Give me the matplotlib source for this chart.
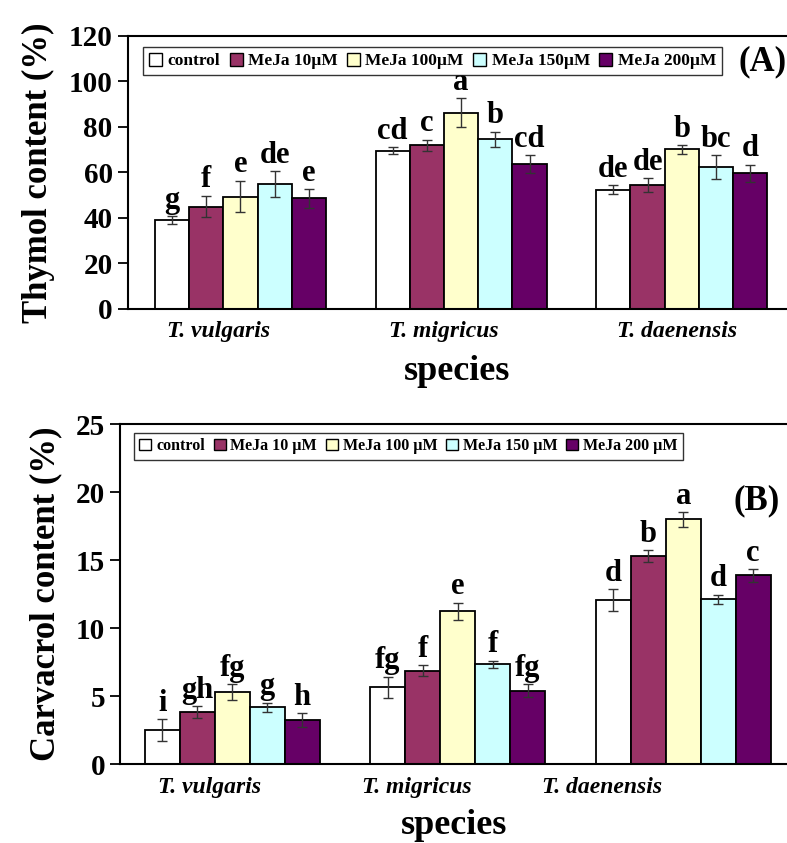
import matplotlib
matplotlib.use("Agg")
import matplotlib.pyplot as plt
import numpy as np

plt.rcParams['font.family'] = ['Liberation Serif', 'DejaVu Serif']
plt.rcParams['font.weight'] = 'bold'

species = ["T. vulgaris", "T. migricus", "T. daenensis"]
treat_A = ["control", "MeJa 10µM", "MeJa 100µM", "MeJa 150µM", "MeJa 200µM"]
treat_B = ["control", "MeJa 10 µM", "MeJa 100 µM", "MeJa 150 µM", "MeJa 200 µM"]
colors = ["#FFFFFF", "#993366", "#FFFFCC", "#CCFFFF", "#660066"]

# Thymol (%) : rows = treatments, cols = species
thymol = [[39.0, 69.5, 52.4],
          [45.0, 71.9, 54.4],
          [49.4, 86.3, 70.1],
          [55.0, 74.5, 62.3],
          [48.6, 63.7, 59.6]]
thymol_err = [[1.7, 1.6, 1.9],
              [4.7, 2.5, 3.0],
              [7.0, 6.3, 1.9],
              [5.6, 3.4, 5.3],
              [4.1, 3.8, 3.8]]
thymol_letters = [["g", "cd", "de"],
                  ["f", "c", "de"],
                  ["e", "a", "b"],
                  ["de", "b", "bc"],
                  ["e", "cd", "d"]]

carvacrol = [[2.5, 5.64, 12.06],
             [3.82, 6.86, 15.29],
             [5.29, 11.23, 17.99],
             [4.17, 7.33, 12.1],
             [3.24, 5.39, 13.87]]
carvacrol_err = [[0.78, 0.78, 0.78],
                 [0.44, 0.40, 0.44],
                 [0.59, 0.63, 0.54],
                 [0.33, 0.27, 0.35],
                 [0.49, 0.49, 0.47]]
carvacrol_letters = [["i", "fg", "d"],
                     ["gh", "f", "b"],
                     ["fg", "e", "a"],
                     ["g", "f", "d"],
                     ["h", "fg", "c"]]

fig = plt.figure(figsize=(7.87, 8.43), dpi=100)
axA = fig.add_axes([0.1626, 0.6335, 0.8374, 0.3240])
axB = fig.add_axes([0.1531, 0.0937, 0.8469, 0.4033])

x = np.arange(len(species))
w = 0.155


def draw(ax, vals, errs, letters, treats, ymax, yticks, xlim, ylabel, tag, tagpos,
         legpos, legfs, tickfs, xtick_shift, xlabelpad):
    for i in range(len(treats)):
        pos = x + (i - 2) * w
        ax.bar(pos, vals[i], w, color=colors[i], edgecolor='black', linewidth=1.3,
               label=treats[i], zorder=2)
        ax.errorbar(pos, vals[i], yerr=errs[i], fmt='none', ecolor='#333333',
                    elinewidth=1.0, capsize=3.5, capthick=1.0, zorder=3)
        for j in range(len(species)):
            ax.annotate(letters[i][j], (pos[j], vals[i][j] + errs[i][j]),
                        xytext=(0, 1), textcoords='offset points', ha='center',
                        va='bottom', fontsize=22, fontweight='bold')
    ax.set_xlim(*xlim)
    ax.set_ylim(0, ymax)
    ax.set_yticks(yticks)
    ax.set_yticklabels([str(t) for t in yticks], fontsize=tickfs, fontweight='bold')
    ax.set_xticks(x + np.array(xtick_shift))
    ax.set_xticklabels(species, fontsize=17, fontstyle='italic', fontweight='bold')
    ax.tick_params(axis='x', length=0, pad=9)
    ax.tick_params(axis='y', length=7, width=1.3, direction='out', pad=4)
    for s in ['left', 'bottom', 'top']:
        ax.spines[s].set_linewidth(1.5)
    ax.spines['right'].set_visible(False)
    ax.set_ylabel(ylabel, fontsize=25, fontweight='bold', labelpad=10)
    ax.set_xlabel("species", fontsize=26, fontweight='bold', labelpad=xlabelpad)
    leg = ax.legend(loc='upper left', bbox_to_anchor=legpos, ncol=5, fontsize=legfs,
                    frameon=True, fancybox=False, edgecolor='black',
                    handlelength=0.75, handleheight=0.75, handletextpad=0.3,
                    columnspacing=0.55, borderpad=0.35, borderaxespad=0)
    leg.get_frame().set_linewidth(1.0)
    for h in leg.legend_handles:
        h.set_linewidth(1.0)
    ax.text(tagpos[0], tagpos[1], tag, transform=ax.transAxes, ha='center',
            va='center', fontsize=25, fontweight='bold')


draw(axA, thymol, thymol_err, thymol_letters, treat_A, 120, [0, 20, 40, 60, 80, 100, 120],
     (-0.51, 2.477), "Thymol content (%)", "(A)", (0.963, 0.905), (0.023, 0.96), 12.5, 21,
     [-0.1, -0.08, -0.02], 9)
draw(axB, carvacrol, carvacrol_err, carvacrol_letters, treat_B, 25, [0, 5, 10, 15, 20, 25],
     (-0.496, 2.46), "Carvacrol content (%)", "(B)", (0.955, 0.775), (0.02, 0.975), 11.5, 21,
     [-0.1, -0.18, -0.36], 8)

fig.savefig("out.png", dpi=100)
